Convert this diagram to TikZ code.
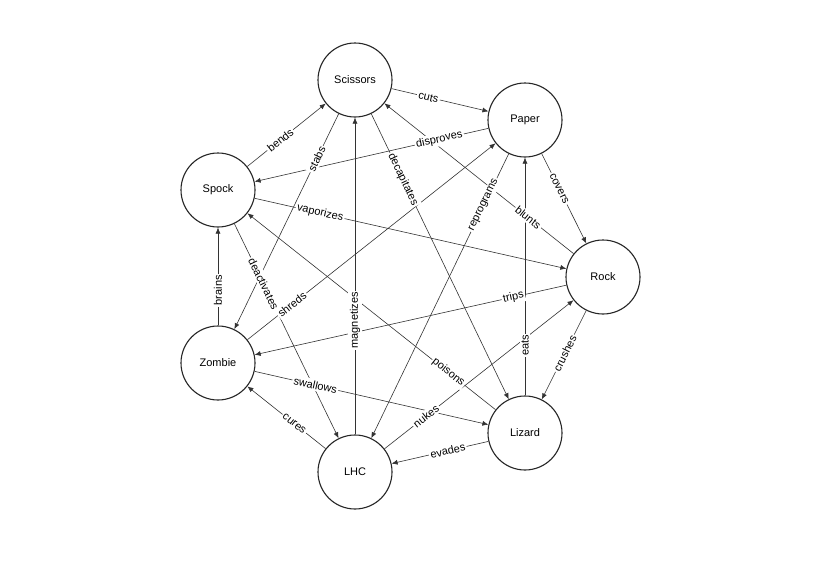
\documentclass[tikz,border=0pt]{standalone}
\usepackage{fontspec}
\setmainfont{Liberation Sans}
\usetikzlibrary{arrows.meta}
\tikzset{
  item/.style={circle, draw=black!85, line width=1.1pt, fill=white, minimum size=74pt, inner sep=0pt, font=\fontsize{11}{13}\selectfont},
  link/.style={-{Latex[length=6pt,width=5pt]}, black!80, line width=0.6pt},
  verb/.style={sloped, fill=white, inner sep=1.5pt, font=\fontsize{11}{13}\selectfont}
}
\begin{document}
\begin{tikzpicture}[x=1pt, y=-1pt]
				\useasboundingbox[fill=white] (0,0) rectangle (820,562);

				\node[item] (scissors) at (355,80) {Scissors};
				\node[item] (paper) at (525,120) {Paper};
				\node[item] (spock) at (218,190) {Spock};
				\node[item] (rock) at (603,277) {Rock};
				\node[item] (zombie) at (218,363) {Zombie};
				\node[item] (lizard) at (525,433) {Lizard};
				\node[item] (lhc) at (355,472) {LHC};

				% arrows first, labels on top of them
				\def\rules{scissors/paper/cuts/0.38, paper/spock/disproves/0.21,
					spock/scissors/bends/0.42, scissors/zombie/stabs/0.21,
					scissors/lizard/decapitates/0.23, paper/rock/covers/0.39,
					rock/scissors/blunts/0.24, paper/lhc/reprograms/0.18,
					lizard/paper/eats/0.21, spock/rock/vaporizes/0.21,
					spock/lhc/deactivates/0.28, zombie/spock/brains/0.36,
					zombie/paper/shreds/0.18, rock/zombie/trips/0.17,
					rock/lizard/crushes/0.48, lizard/spock/poisons/0.19,
					zombie/lizard/swallows/0.26, lhc/zombie/cures/0.40,
					lhc/scissors/magnetizes/0.36, lhc/rock/nukes/0.22,
					lizard/lhc/evades/0.42}
				\foreach \a/\b/\t/\p in \rules
					\draw[link] (\a) -- (\b);
				\foreach \a/\b/\t/\p in \rules
					\path (\a) -- node[verb, pos=\p] {\t} (\b);
\end{tikzpicture}
\end{document}
